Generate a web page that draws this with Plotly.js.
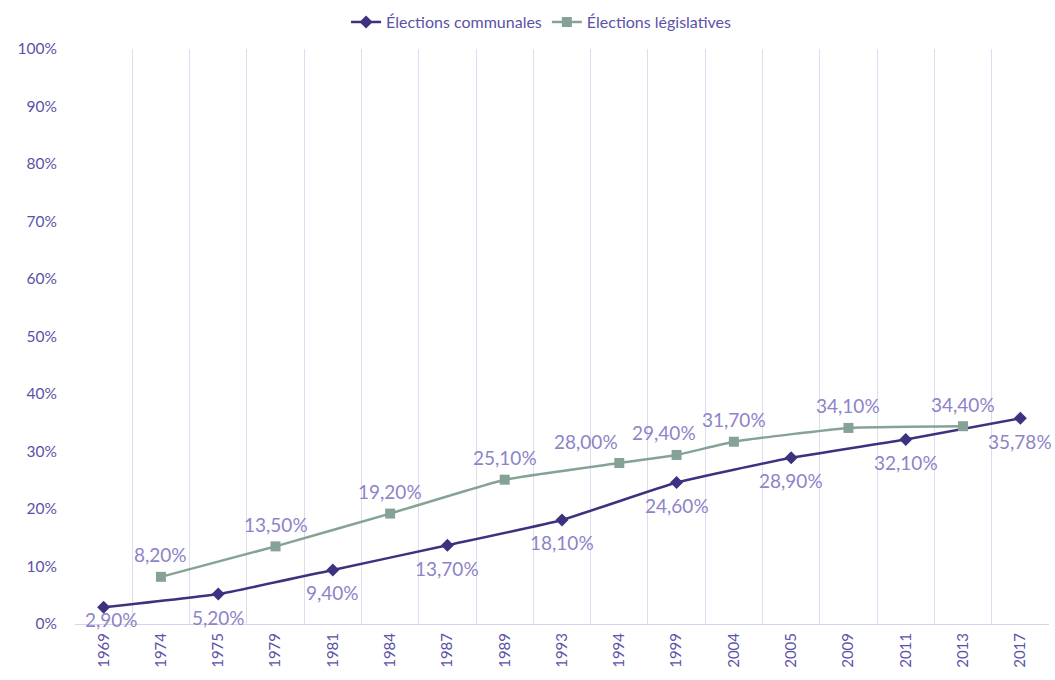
<!DOCTYPE html>
<html><head><meta charset="utf-8">
<script src="https://cdn.plot.ly/plotly-3.0.1.min.js"></script>
<style>html,body{margin:0;padding:0;background:#fff}#c{width:1055px;height:680px}</style>
</head><body><div id="c"></div>
<script>
const years = ['1969','1974','1975','1979','1981','1984','1987','1989','1993','1994','1999','2004','2005','2009','2011','2013','2017'];
const communales = [2.9,null,5.2,null,9.4,null,13.7,null,18.1,null,24.6,null,28.9,null,32.1,null,35.78];
const legislatives = [null,8.2,null,13.5,null,19.2,null,25.1,null,28.0,29.4,31.7,null,34.1,null,34.4,null];
const seriesNames = ['Élections communales','Élections législatives'];
// manual label nudges (style only, px) to avoid overlapping labels, as in the original
const legLabelNudge = {'1994': -33, '1999': -13};
const fmt = v => v.toFixed(2).replace('.',',')+'%';
const labelColor = '#8c84c8';
const tickColor = '#5a52a6';
const fontFam = 'Lato, "Open Sans", sans-serif';
const plotH = 680 - 48 - 56;
const traces = [
 {x: years, y: communales, name: seriesNames[0], type:'scatter', mode:'lines+markers',
  connectgaps:true, line:{color:'#3b3280', width:2.5, shape:'spline', smoothing:0.4},
  marker:{symbol:'diamond', size:10, color:'#3b3280'}, cliponaxis:false},
 {x: years, y: legislatives, name: seriesNames[1], type:'scatter', mode:'lines+markers',
  connectgaps:true, line:{color:'#86a297', width:2.5, shape:'spline', smoothing:0.4},
  marker:{symbol:'square', size:10, color:'#86a297'}, cliponaxis:false}
];
const annotations = [];
years.forEach((yr,i)=>{
  const c = communales[i];
  if (c != null) {
    const px = c/100*plotH;
    annotations.push({x:i, y:c, xref:'x', yref:'y', text:fmt(c), showarrow:false,
      yshift:-Math.min(23, px-5), xshift: px < 28 ? 8 : 0,
      font:{size:19, color:labelColor, family:fontFam}});
  }
  const l = legislatives[i];
  if (l != null) {
    annotations.push({x:i, y:l, xref:'x', yref:'y', text:fmt(l), showarrow:false, yshift:22,
      xshift: legLabelNudge[yr] || 0,
      font:{size:19, color:labelColor, family:fontFam}});
  }
});
const layout = {
 width:1055, height:680, margin:{l:75,r:6,t:48,b:56},
 paper_bgcolor:'#fff', plot_bgcolor:'#fff',
 font:{family:fontFam, color:tickColor, size:15},
 showlegend:true,
 legend:{orientation:'h', x:0.479, xanchor:'center', y:1.045, yanchor:'middle', font:{size:16, color:tickColor}, traceorder:'normal'},
 annotations: annotations,
 xaxis:{type:'category', tickangle:-90, tickson:'boundaries', ticklen:0, showgrid:true, gridcolor:'#dedcf0', gridwidth:1,
        showline:true, linecolor:'#d6d3ec', linewidth:1, tickfont:{size:15,color:tickColor}, range:[-0.5,16.5], zeroline:false,
        ticklabelstandoff:2},
 yaxis:{range:[0,100], dtick:10, ticksuffix:'%', showgrid:false, zeroline:false, showline:false,
        tickfont:{size:15.5,color:tickColor}, ticklabelstandoff:17}
};
Plotly.newPlot('c', traces, layout, {displayModeBar:false});
</script></body></html>
